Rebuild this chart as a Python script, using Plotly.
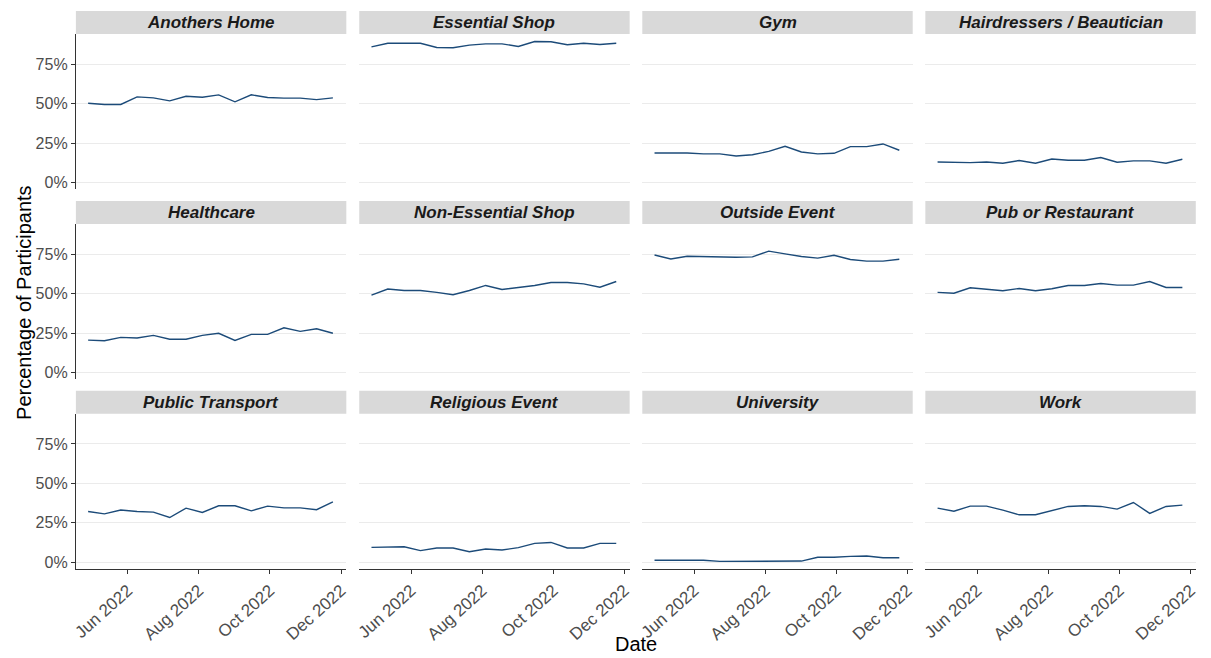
import pandas as pd
import plotly.graph_objects as go

# Fortnightly survey waves
dates = pd.date_range("2022-04-28", periods=16, freq="14D")

locations = [
    "Anothers Home", "Essential Shop", "Gym", "Hairdressers / Beautician",
    "Healthcare", "Non-Essential Shop", "Outside Event", "Pub or Restaurant",
    "Public Transport", "Religious Event", "University", "Work",
]

# Percentage of participants visiting each location type per wave
anothers_home = [50.2, 49.4, 49.4, 54.2, 53.6, 51.7, 54.6, 54.0, 55.5, 51.1, 55.5, 53.8, 53.4, 53.4, 52.5, 53.6]
essential_shop = [85.9, 88.2, 88.2, 88.2, 85.5, 85.3, 87.0, 87.8, 87.8, 86.1, 89.3, 89.1, 87.2, 88.2, 87.4, 88.2]
gym = [18.7, 18.7, 18.7, 18.1, 18.1, 16.8, 17.6, 19.7, 22.9, 19.3, 18.1, 18.5, 22.7, 22.7, 24.4, 20.4]
hairdressers = [13.0, 12.6, 12.6, 13.0, 12.2, 13.9, 12.2, 14.9, 14.1, 14.1, 15.8, 12.8, 13.7, 13.7, 12.2, 14.7]
healthcare = [20.6, 20.2, 22.3, 21.9, 23.6, 21.1, 21.1, 23.6, 24.9, 20.4, 24.2, 24.2, 28.4, 26.1, 27.8, 24.9]
non_essential_shop = [49.1, 52.9, 52.0, 52.0, 50.8, 49.3, 52.0, 55.2, 52.6, 53.7, 55.2, 57.1, 57.1, 56.2, 54.1, 57.7]
outside_event = [74.5, 72.0, 73.7, 73.5, 73.1, 73.1, 73.3, 76.9, 75.2, 73.5, 72.5, 74.3, 71.6, 70.6, 70.6, 71.8]
pub_restaurant = [50.8, 50.3, 53.7, 52.6, 51.8, 53.3, 51.8, 53.1, 55.2, 55.2, 56.4, 55.4, 55.4, 57.7, 53.9, 53.9]
public_transport = [32.2, 30.7, 33.1, 32.2, 31.8, 28.4, 34.3, 31.6, 35.8, 35.8, 32.6, 35.6, 34.5, 34.5, 33.3, 38.3]
religious_event = [9.5, 9.5, 9.9, 7.4, 9.1, 9.1, 6.7, 8.4, 7.8, 9.3, 12.0, 12.6, 9.1, 9.1, 12.0, 12.0]
university = [1.3, 1.3, 1.3, 1.3, 0.6, 0.6, 0.8, 0.8, 0.8, 0.8, 3.2, 3.2, 3.8, 4.0, 2.9, 2.9]
work = [34.3, 32.4, 35.6, 35.6, 33.1, 30.1, 30.1, 32.6, 35.4, 35.8, 35.4, 33.7, 37.9, 31.0, 35.4, 36.2]

series = [
    anothers_home, essential_shop, gym, hairdressers,
    healthcare, non_essential_shop, outside_event, pub_restaurant,
    public_transport, religious_event, university, work,
]

y_ticks = [0, 25, 50, 75]
y_tick_labels = ["0%", "25%", "50%", "75%"]
x_ticks = ["2022-06-01", "2022-08-01", "2022-10-01", "2022-12-01"]
x_tick_labels = ["Jun 2022", "Aug 2022", "Oct 2022", "Dec 2022"]

W, H = 1211, 658
FONT = "Liberation Sans, Arial, sans-serif"
LINE_COLOR = "#1C4B79"

# Panel geometry in pixels
col_left = [72.3, 357.3, 642.0, 926.7]
panel_w = 272.0
row_top = [34.0, 224.7, 415.0]
panel_h = 155.7
strip_h = 23.0

x_range = [pd.Timestamp("2022-04-17 12:00"), pd.Timestamp("2022-12-05 12:00")]
y_range = [-4.2, 94.1]

fig = go.Figure()
shapes = []
annotations = []

for i, (name, vals) in enumerate(zip(locations, series)):
    r, c = divmod(i, 4)
    k = "" if i == 0 else str(i + 1)
    xa, ya = "xaxis" + k, "yaxis" + k
    x0 = col_left[c] / W
    x1 = (col_left[c] + panel_w) / W
    y1 = 1 - row_top[r] / H
    y0 = 1 - (row_top[r] + panel_h) / H

    fig.add_trace(go.Scatter(
        x=dates, y=vals, mode="lines",
        line=dict(color=LINE_COLOR, width=1.4),
        xaxis="x" + k, yaxis="y" + k, showlegend=False,
        hovertemplate="%{x|%d %b %Y}: %{y:.1f}%<extra>" + name + "</extra>",
    ))

    bottom = r == 2
    left = c == 0
    fig.update_layout(**{
        xa: dict(
            domain=[x0, x1], anchor="y" + k, range=x_range, type="date",
            showgrid=False, zeroline=False,
            showline=bottom, linecolor="#333333", linewidth=1.1,
            ticks="outside" if bottom else "", ticklen=4, tickcolor="#333333",
            tickvals=x_ticks, ticktext=x_tick_labels,
            showticklabels=bottom, tickangle=-42,
            tickfont=dict(family=FONT, size=17, color="#4D4D4D"),
        ),
        ya: dict(
            domain=[y0, y1], anchor="x" + k, range=y_range,
            showgrid=True, gridcolor="#EBEBEB", gridwidth=1.1, zeroline=False,
            showline=left, linecolor="#333333", linewidth=1.1,
            ticks="outside" if left else "", ticklen=4, tickcolor="#333333",
            tickvals=y_ticks, ticktext=y_tick_labels,
            showticklabels=left,
            tickfont=dict(family=FONT, size=16, color="#4D4D4D"),
        ),
    })

    # Facet strip
    sy1 = 1 - (row_top[r] - strip_h) / H
    shapes.append(dict(
        type="rect", xref="paper", yref="paper",
        x0=x0, x1=x1, y0=y1, y1=sy1,
        fillcolor="#D9D9D9", line=dict(width=0), layer="below",
    ))
    annotations.append(dict(
        xref="paper", yref="paper", x=(x0 + x1) / 2, y=(y1 + sy1) / 2,
        text="<b><i>" + name + "</i></b>", showarrow=False,
        xanchor="center", yanchor="middle",
        font=dict(family=FONT, size=17, color="#1A1A1A"),
    ))

annotations.append(dict(
    xref="paper", yref="paper",
    x=(col_left[0] + col_left[3] + panel_w) / 2 / W, y=1 - 646 / H,
    text="Date", showarrow=False, xanchor="center", yanchor="middle",
    font=dict(family=FONT, size=20, color="#000000"),
))
annotations.append(dict(
    xref="paper", yref="paper", x=20 / W, y=1 - 303 / H,
    text="Percentage of Participants", showarrow=False, textangle=-90,
    xanchor="center", yanchor="middle",
    font=dict(family=FONT, size=20, color="#000000"),
))

fig.update_layout(
    width=W, height=H,
    margin=dict(l=0, r=0, t=0, b=0),
    paper_bgcolor="white", plot_bgcolor="white",
    shapes=shapes, annotations=annotations,
    font=dict(family=FONT),
)

fig.write_html("out.html")
